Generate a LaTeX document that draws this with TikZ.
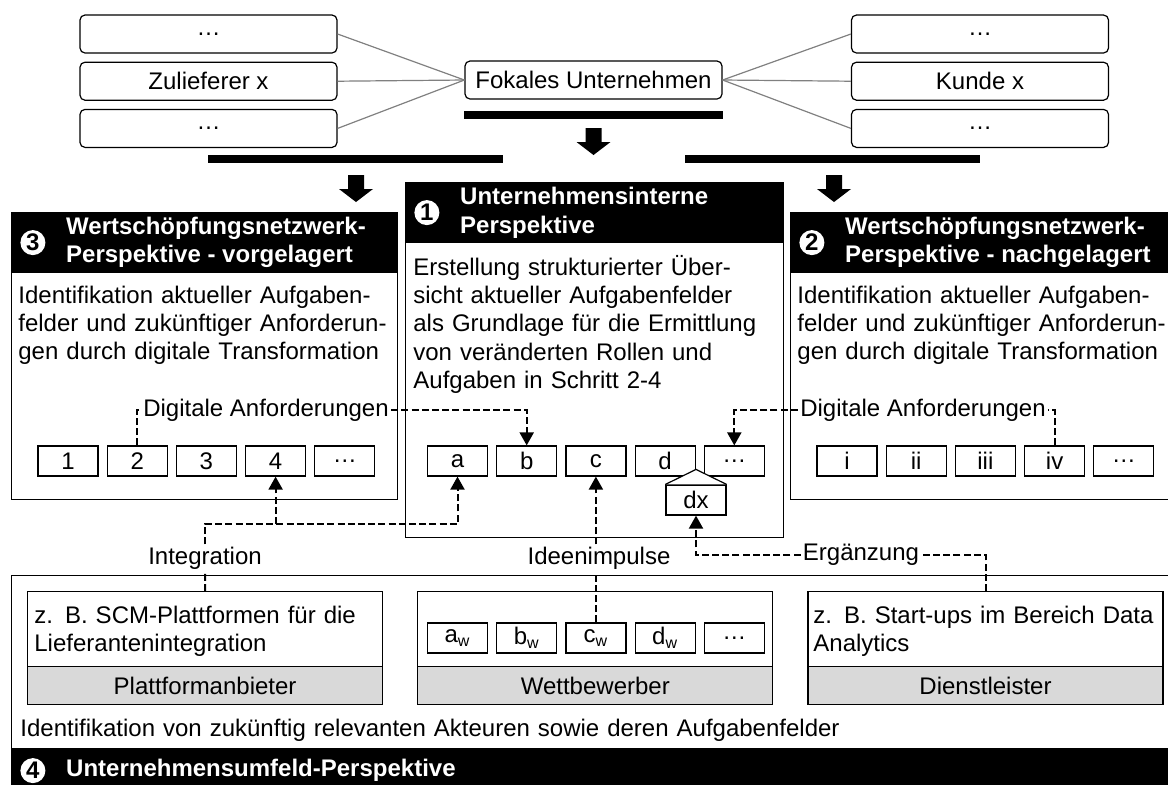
\documentclass[tikz,border=0pt]{standalone}
\usepackage{fontspec}
\setmainfont{Liberation Sans}
\usetikzlibrary{positioning,arrows.meta}

% thick block arrow pointing down, #1 = tip of the shaft top
\newcommand{\blockarrow}[1]{\fill (#1) ++(-8,0) -- ++(16,0) -- ++(0,14) -- ++(9,0) -- ++(-17,13) -- ++(-17,-13) -- ++(9,0) -- cycle;}

\begin{document}
\begin{tikzpicture}[
    x=0.5pt, y=-0.5pt,
    font=\fontsize{12}{14.2}\selectfont,
    partner/.style={rectangle, draw, rounded corners=2.5pt, line width=0.6pt, minimum width=128.5pt, minimum height=19pt, inner sep=0pt},
    feed/.style={draw=black!50, line width=0.6pt},
    panel/.style={rectangle, draw, line width=0.6pt, anchor=north west, inner sep=0pt},
    head/.style={rectangle, fill=black, draw=black, line width=0.6pt, anchor=north west, inner sep=0pt, minimum height=30pt},
    headtext/.style={anchor=west, align=left, inner sep=0pt, text=white, font=\fontsize{12}{14.2}\selectfont\bfseries},
    num/.style={circle, fill=white, inner sep=0pt, minimum size=12.5pt, font=\fontsize{12}{12}\selectfont\bfseries},
    body/.style={anchor=base west, align=left, inner sep=0pt, text width=185pt},
    cell/.style={rectangle, draw, line width=0.6pt, minimum width=30pt, minimum height=15pt, inner sep=0pt},
    actor/.style={rectangle, draw, line width=0.6pt, minimum width=177.5pt, minimum height=56.5pt, inner sep=0pt},
    role/.style={rectangle, draw, fill=black!15, line width=0.6pt, minimum width=177.5pt, minimum height=19pt, inner sep=0pt, anchor=south west},
    tag/.style={inner sep=1pt},
    link/.style={dash pattern=on 3.5pt off 1.6pt, line width=1pt},
    arrow/.style={link, -{Triangle[length=6.5pt, width=7pt]}}
]
\clip (0,0) rectangle (1168,784);

% Value network around the focal company
\node[partner] (sup1) at (208.5,34) {…};
\node[partner, below=4pt of sup1] (sup2) {Zulieferer x};
\node[partner, below=4pt of sup2] (sup3) {…};
\node[partner] (focal) at (593.5,80) {Fokales Unternehmen};
\node[partner] (cust1) at (980,34) {…};
\node[partner, below=4pt of cust1] (cust2) {Kunde x};
\node[partner, below=4pt of cust2] (cust3) {…};

\draw[feed] (sup1.east) -- (focal.west);
\draw[feed] (sup2.east) -- (focal.west);
\draw[feed] (sup3.east) -- (focal.west);
\draw[feed] (focal.east) -- (cust1.west);
\draw[feed] (focal.east) -- (cust2.west);
\draw[feed] (focal.east) -- (cust3.west);

% Bars and block arrows
\fill ([yshift=-5.5pt]focal.south west) rectangle ([yshift=-9.5pt]focal.south east);
\fill (208,155) rectangle (503,163);
\fill (685,155) rectangle (980,163);
\blockarrow{593.5,128}
\blockarrow{356,175}
\blockarrow{834,175}

% Step 3: upstream perspective
\node[panel, minimum width=193pt, minimum height=143.5pt] (up) at (11,212) {};
\node[head, minimum width=193pt] (uphead) at (11,212) {};
\node[num, right=4.5pt of uphead.west] (upnum) {3};
\node[headtext, right=10pt of upnum] (uptitle) {Wertschöpfungsnetzwerk-\\Perspektive - vorgelagert};
\node[body] (uptext) at (18,303) {Identifikation aktueller Aufgaben-\\felder und zukünftiger Anforderun-\\gen durch digitale Transformation};
\node[cell] (v1) at (68,461) {1};
\node[cell, right=4pt of v1] (v2) {2};
\node[cell, right=4pt of v2] (v3) {3};
\node[cell, right=4pt of v3] (v4) {4};
\node[cell, right=4pt of v4] (v5) {…};

% Step 1: internal perspective
\node[panel, minimum width=189pt, minimum height=177.5pt] (inner) at (405,182) {};
\node[head, minimum width=189pt] (innerhead) at (405,182) {};
\node[num, right=4.5pt of innerhead.west] (innernum) {1};
\node[headtext, right=10pt of innernum] (innertitle) {Unternehmensinterne\\Perspektive};
\node[body] (innertext) at (413,275) {Erstellung strukturierter Über-\\sicht aktueller Aufgabenfelder\\als Grundlage für die Ermittlung\\von veränderten Rollen und\\Aufgaben in Schritt 2-4};
\node[cell] (a) at (457.5,461) {a};
\node[cell, right=4pt of a] (b) {b};
\node[cell, right=4pt of b] (c) {c};
\node[cell, right=4pt of c] (d) {d};
\node[cell, right=4pt of d] (e) {…};
\node[cell] (dx) at (696,500) {dx};
\filldraw[fill=white, line width=0.6pt] (dx.north west) -- ([yshift=7.5pt]dx.north) -- (dx.north east);

% Step 2: downstream perspective
\node[panel, minimum width=193.5pt, minimum height=143.5pt] (down) at (790,212) {};
\node[head, minimum width=193.5pt] (downhead) at (790,212) {};
\node[num, right=4.5pt of downhead.west] (downnum) {2};
\node[headtext, right=10pt of downnum] (downtitle) {Wertschöpfungsnetzwerk-\\Perspektive - nachgelagert};
\node[body] (downtext) at (797,303) {Identifikation aktueller Aufgaben-\\felder und zukünftiger Anforderun-\\gen durch digitale Transformation};
\node[cell] (r1) at (847,461) {i};
\node[cell, right=4pt of r1] (r2) {ii};
\node[cell, right=4pt of r2] (r3) {iii};
\node[cell, right=4pt of r3] (r4) {iv};
\node[cell, right=4pt of r4] (r5) {…};

% Step 4: environment perspective
\node[panel, minimum width=583pt, minimum height=112.5pt] (env) at (11,575) {};
\node[head, minimum width=583pt, minimum height=22pt] (envhead) at (11,748) {};
\node[num, right=4.5pt of envhead.west] (envnum) {4};
\node[headtext, right=10pt of envnum] (envtitle) {Unternehmensumfeld-Perspektive};
\node[body, text width=560pt] (envtext) at (20,736) {Identifikation von zukünftig relevanten Akteuren sowie deren Aufgabenfelder};

\node[actor, anchor=north west] (pfbox) at (27,591) {};
\node[role] (pf) at (pfbox.south west) {Plattformanbieter};
\node[body] (pftext) at (34,623) {z. B. SCM-Plattformen für die\\Lieferantenintegration};

\node[actor, right=17pt of pfbox] (wbbox) {};
\node[role] (wb) at (wbbox.south west) {Wettbewerber};
\node[cell] (aw) at (457.5,638) {a\textsubscript{w}};
\node[cell, right=4pt of aw] (bw) {b\textsubscript{w}};
\node[cell, right=4pt of bw] (cw) {c\textsubscript{w}};
\node[cell, right=4pt of cw] (dw) {d\textsubscript{w}};
\node[cell, right=4pt of dw] (ew) {…};

\node[actor, right=17pt of wbbox] (dlbox) {};
\node[role] (dl) at (dlbox.south west) {Dienstleister};
\node[body] (dltext) at (813,623) {z. B. Start-ups im Bereich Data\\Analytics};

% Labels on the dashed links
\node[tag] (digup) at (266,410) {Digitale Anforderungen};
\node[tag] (digdown) at (923,410) {Digitale Anforderungen};
\node[tag] (integ) at (205,558) {Integration};
\node[tag] (ideas) at (599,558) {Ideenimpulse};
\node[tag] (suppl) at (861,555) {Ergänzung};

% Dashed links
\draw[link] (v2.north) |- (digup.west);
\draw[arrow] (digup.east) -| (b.north);
\draw[link] (r4.north) |- (digdown.east);
\draw[arrow] (digdown.west) -| (e.north);

\coordinate (integbend) at (205,524);
\draw[link] (pfbox.north) -- (integ.south);
\draw[arrow] (integ.north) -- (integbend) -| (a.south);
\draw[arrow] (integbend -| v4.south) -- (v4.south);

\draw[link] (cw.north) -- (cw.north |- ideas.south);
\draw[arrow] (c.south |- ideas.north) -- (c.south);

\draw[link] (dlbox.north) |- (suppl.east);
\draw[arrow] (suppl.west) -| (dx.south);

\end{tikzpicture}
\end{document}
